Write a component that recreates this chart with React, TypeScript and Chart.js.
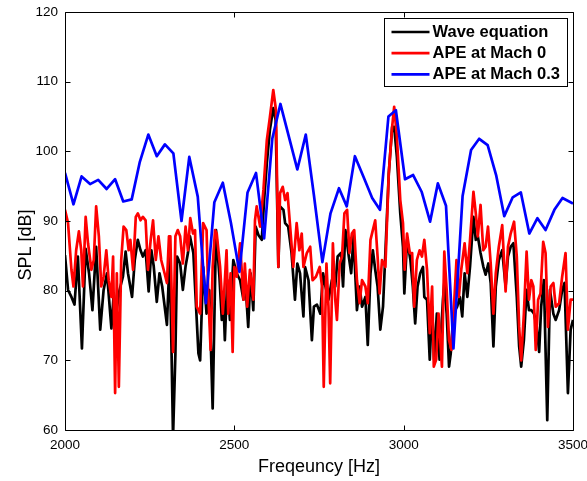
import React, { useEffect, useRef } from "react";
import { Chart, registerables } from "chart.js";

Chart.register(...registerables);

const X_TICKS = [2000, 2500, 3000, 3500];
const Y_TICKS = [60, 70, 80, 90, 100, 110, 120];

const X_TITLE = "Freqeuncy [Hz]";
const Y_TITLE = "SPL [dB]";
const SERIES_LABELS = ["Wave equation", "APE at Mach 0", "APE at Mach 0.3"];
const SERIES_COLORS = ["#000000", "#ff0000", "#0000ff"];

const waveFreq = [
  2000, 2009, 2019, 2028, 2038, 2050, 2061, 2071, 2081, 2092, 2104, 2114, 2124, 2137, 2144, 2151, 2161, 2171, 2179, 2186,
  2198, 2206, 2215, 2223, 2230, 2238, 2247, 2255, 2262, 2271, 2279, 2287, 2301, 2309, 2314, 2319, 2326, 2331, 2340, 2348,
  2356, 2363, 2369, 2379, 2384, 2394, 2399, 2408, 2418, 2426, 2436, 2446, 2456, 2463, 2467, 2472, 2479, 2487, 2497, 2507,
  2517, 2527, 2531, 2541, 2548, 2556, 2563, 2571, 2581, 2588, 2596, 2605, 2615, 2622, 2630, 2635, 2645, 2650, 2659, 2669,
  2679, 2686, 2694, 2704, 2709, 2719, 2729, 2735, 2744, 2754, 2762, 2769, 2778, 2788, 2798, 2805, 2815, 2821, 2828, 2838,
  2845, 2852, 2862, 2870, 2877, 2887, 2894, 2902, 2909, 2916, 2923, 2931, 2939, 2946, 2956, 2966, 2972, 2980, 2990, 2998,
  3002, 3010, 3020, 3027, 3034, 3041, 3049, 3057, 3061, 3069, 3077, 3084, 3090, 3098, 3106, 3116, 3120, 3127, 3134, 3139,
  3147, 3158, 3166, 3173, 3180, 3188, 3196, 3206, 3213, 3219, 3227, 3235, 3242, 3250, 3257, 3265, 3272, 3281, 3291, 3301,
  3308, 3316, 3324, 3334, 3341, 3347, 3355, 3363, 3370, 3377, 3385, 3393, 3400, 3406, 3414, 3424, 3432, 3442, 3449, 3459,
  3468, 3475, 3485, 3493, 3500,
];
const waveSPL = [
  85.1, 80.1, 79.1, 78.0, 84.9, 71.7, 86.0, 82.5, 77.2, 86.3, 74.4, 80.1, 82.5, 74.6, 79.6, 76.7, 80.1, 82.0, 85.6, 82.5,
  79.1, 84.4, 87.3, 85.8, 84.9, 85.8, 79.9, 85.8, 83.5, 78.4, 82.5, 80.6, 75.1, 84.9, 72.9, 59.0, 71.0, 84.9, 83.9, 80.1,
  83.5, 85.4, 87.8, 85.4, 80.6, 71.0, 70.0, 83.4, 76.7, 80.1, 63.1, 88.7, 82.0, 75.8, 79.6, 72.9, 81.5, 75.8, 84.4, 82.5,
  81.5, 78.7, 82.5, 74.8, 82.5, 77.2, 89.2, 88.0, 87.3, 93.0, 98.3, 103.1, 106.2, 104.5, 83.4, 92.1, 91.6, 89.7, 89.2, 85.4,
  78.7, 83.9, 82.5, 76.3, 83.4, 81.5, 72.9, 77.7, 78.0, 76.7, 82.5, 80.6, 78.7, 81.5, 80.6, 84.9, 85.4, 80.6, 88.7, 84.9,
  82.5, 87.8, 77.2, 80.6, 77.7, 79.1, 72.2, 82.5, 85.8, 83.0, 80.6, 74.4, 77.7, 85.4, 96.8, 103.5, 103.5, 99.2, 91.1, 86.3,
  79.6, 87.3, 84.4, 80.6, 75.3, 80.6, 82.5, 83.4, 79.1, 78.7, 70.1, 77.7, 70.1, 76.7, 70.1, 78.7, 81.1, 76.7, 69.1, 71.0,
  76.7, 77.7, 79.1, 76.3, 82.5, 79.1, 83.5, 90.6, 87.3, 87.8, 85.4, 83.5, 82.3, 83.9, 81.1, 72.0, 80.6, 84.4, 85.8, 80.6,
  84.9, 86.3, 86.8, 79.1, 72.0, 69.1, 72.9, 80.1, 77.2, 77.2, 76.7, 74.8, 71.2, 77.7, 81.5, 61.4, 80.1, 76.7, 75.8, 77.2,
  80.1, 81.1, 65.3, 74.4, 75.8,
];

const ape0Freq = [
  2000, 2009, 2019, 2025, 2033, 2041, 2048, 2053, 2061, 2068, 2078, 2085, 2092, 2100, 2107, 2114, 2122, 2129, 2137, 2142,
  2148, 2153, 2159, 2166, 2173, 2181, 2188, 2193, 2201, 2209, 2215, 2223, 2230, 2238, 2245, 2253, 2260, 2268, 2276, 2284,
  2294, 2301, 2307, 2311, 2319, 2326, 2333, 2340, 2348, 2356, 2363, 2370, 2378, 2384, 2389, 2399, 2408, 2418, 2423, 2430,
  2436, 2443, 2448, 2458, 2466, 2471, 2477, 2482, 2489, 2495, 2500, 2507, 2517, 2527, 2531, 2538, 2546, 2556, 2561, 2566,
  2576, 2586, 2596, 2605, 2615, 2623, 2630, 2635, 2643, 2650, 2657, 2664, 2674, 2684, 2692, 2699, 2704, 2714, 2724, 2731,
  2741, 2752, 2759, 2764, 2772, 2778, 2783, 2791, 2798, 2803, 2811, 2818, 2825, 2833, 2840, 2847, 2854, 2862, 2870, 2877,
  2887, 2894, 2902, 2909, 2916, 2923, 2929, 2936, 2946, 2956, 2966, 2972, 2980, 2990, 2998, 3003, 3010, 3018, 3025, 3031,
  3039, 3047, 3054, 3061, 3069, 3077, 3084, 3089, 3096, 3103, 3113, 3120, 3127, 3134, 3141, 3149, 3156, 3163, 3170, 3180,
  3188, 3196, 3206, 3213, 3219, 3227, 3235, 3242, 3249, 3257, 3265, 3272, 3281, 3291, 3301, 3308, 3316, 3326, 3334, 3341,
  3347, 3355, 3363, 3370, 3377, 3383, 3390, 3397, 3404, 3412, 3419, 3426, 3434, 3442, 3449, 3459, 3468, 3478, 3485, 3493,
  3500,
];
const ape0SPL = [
  91.6, 89.7, 83.0, 80.6, 85.8, 88.5, 85.8, 80.6, 90.6, 86.8, 83.0, 84.4, 92.1, 87.8, 80.6, 82.0, 85.8, 81.5, 79.1, 84.9,
  65.3, 82.5, 66.2, 84.4, 89.2, 88.7, 85.8, 87.3, 83.0, 90.6, 91.1, 90.1, 90.6, 90.1, 83.0, 87.3, 90.1, 84.4, 87.8, 84.4,
  82.5, 81.1, 87.8, 87.8, 71.2, 87.8, 88.7, 87.8, 83.9, 89.2, 85.8, 90.4, 88.2, 88.7, 77.7, 76.7, 89.7, 88.7, 79.6, 71.5,
  83.4, 88.7, 88.2, 83.4, 76.7, 80.6, 85.8, 76.7, 82.5, 71.2, 83.4, 82.0, 86.8, 78.7, 83.9, 77.7, 83.0, 78.7, 90.1, 92.1,
  89.2, 94.5, 101.6, 104.9, 108.8, 105.9, 83.4, 94.0, 94.9, 93.0, 94.0, 89.7, 83.4, 89.7, 85.8, 88.2, 83.4, 85.4, 86.3, 81.5,
  82.0, 83.4, 80.6, 66.2, 83.9, 77.7, 66.7, 86.8, 78.7, 75.8, 83.9, 84.9, 91.1, 91.6, 85.4, 88.2, 88.7, 81.5, 78.2, 81.5,
  80.6, 78.2, 87.3, 88.7, 90.1, 84.9, 79.6, 84.4, 83.4, 96.8, 103.5, 106.4, 102.1, 93.0, 89.7, 83.0, 88.2, 85.4, 85.4, 77.7,
  84.4, 85.8, 84.9, 87.3, 83.0, 73.9, 80.6, 69.1, 70.1, 76.7, 69.1, 85.6, 80.1, 72.9, 71.5, 78.2, 84.4, 79.1, 83.0, 86.8,
  82.5, 87.3, 94.2, 91.1, 87.8, 92.3, 85.8, 86.3, 89.2, 83.9, 76.7, 82.5, 86.3, 89.4, 79.9, 86.3, 88.2, 89.9, 84.9, 74.8,
  70.0, 76.7, 85.6, 78.7, 81.5, 80.6, 71.5, 78.7, 79.6, 87.0, 85.4, 74.8, 80.6, 81.1, 77.7, 78.2, 82.0, 85.4, 74.4, 78.7,
  78.7,
];

const ape03Freq = [
  2000, 2025, 2049, 2074, 2098, 2123, 2148, 2172, 2197, 2221, 2246, 2271, 2295, 2320, 2344, 2367, 2392, 2416, 2441, 2466,
  2490, 2515, 2539, 2564, 2588, 2612, 2636, 2661, 2686, 2711, 2735, 2760, 2784, 2809, 2832, 2856, 2881, 2907, 2930, 2955,
  2977, 3004, 3028, 3053, 3078, 3101, 3125, 3147, 3174, 3199, 3223, 3248, 3273, 3297, 3322, 3346, 3371, 3395, 3419, 3445,
  3469, 3500,
];
const ape03SPL = [
  96.9, 92.4, 96.4, 95.3, 95.9, 94.6, 96.0, 92.8, 93.1, 98.5, 102.4, 99.3, 101.0, 99.7, 90.0, 99.2, 93.5, 78.2, 92.7, 95.5,
  89.7, 82.7, 94.1, 96.9, 87.5, 101.8, 106.8, 102.1, 97.4, 102.4, 93.7, 84.1, 91.1, 94.7, 92.1, 99.3, 96.4, 93.3, 91.6, 105.0,
  105.9, 96.0, 96.6, 94.2, 89.9, 95.4, 92.2, 71.7, 93.6, 100.2, 101.8, 100.9, 96.6, 90.7, 93.4, 94.1, 88.2, 90.4, 88.7, 91.6,
  93.3, 92.5,
];

const FONT = "'Liberation Sans', Arial, Helvetica, sans-serif";

const zip = (xs: number[], ys: number[]) => xs.map((x, i) => ({ x, y: ys[i] }));

const framePlugin = {
  id: "matlabFrame",
  afterDatasetsDraw(chart: any) {
    const { ctx, chartArea: a, scales } = chart;
    const L = Math.round(a.left) + 0.5;
    const R = Math.round(a.right) + 0.5;
    const T = Math.round(a.top) + 0.5;
    const B = Math.round(a.bottom) + 0.5;
    ctx.save();
    ctx.strokeStyle = "#000";
    ctx.lineWidth = 1;
    ctx.beginPath();
    ctx.rect(L, T, R - L, B - T);
    const tl = 5;
    X_TICKS.forEach((v) => {
      const px = Math.round(scales.x.getPixelForValue(v)) + 0.5;
      ctx.moveTo(px, B);
      ctx.lineTo(px, B - tl);
      ctx.moveTo(px, T);
      ctx.lineTo(px, T + tl);
    });
    Y_TICKS.forEach((v) => {
      const py = Math.round(scales.y.getPixelForValue(v)) + 0.5;
      ctx.moveTo(L, py);
      ctx.lineTo(L + tl, py);
      ctx.moveTo(R, py);
      ctx.lineTo(R - tl, py);
    });
    ctx.stroke();

    // y-axis title
    ctx.save();
    ctx.translate(26, 245);
    ctx.rotate(-Math.PI / 2);
    ctx.font = `18px ${FONT}`;
    ctx.fillStyle = "#000";
    ctx.textAlign = "center";
    ctx.textBaseline = "middle";
    ctx.fillText(Y_TITLE, 0, 0);
    ctx.restore();

    // legend box
    const bx = Math.round(a.right) - 189 + 0.5;
    const by = Math.round(a.top) + 6 + 0.5;
    const bw = 183;
    const bh = 68;
    ctx.fillStyle = "#fff";
    ctx.fillRect(bx, by, bw, bh);
    ctx.strokeStyle = "#000";
    ctx.lineWidth = 1;
    ctx.strokeRect(bx, by, bw, bh);
    ctx.font = `bold 16.5px ${FONT}`;
    ctx.textBaseline = "middle";
    ctx.textAlign = "left";
    chart.data.datasets.forEach((ds: any, i: number) => {
      const y = by + 13.5 + i * 21.2;
      ctx.strokeStyle = ds.borderColor;
      ctx.lineWidth = 2.7;
      ctx.beginPath();
      ctx.moveTo(bx + 7, y);
      ctx.lineTo(bx + 45, y);
      ctx.stroke();
      ctx.fillStyle = "#000";
      ctx.fillText(ds.label, bx + 48, y + 0.5);
    });
    ctx.restore();
  },
};

export default function App() {
  const ref = useRef<HTMLCanvasElement | null>(null);
  useEffect(() => {
    if (!ref.current) return;
    const series = [
      { f: waveFreq, v: waveSPL },
      { f: ape0Freq, v: ape0SPL },
      { f: ape03Freq, v: ape03SPL },
    ];
    const chart = new Chart(ref.current, {
      type: "line",
      data: {
        datasets: series.map((s, i) => ({
          label: SERIES_LABELS[i],
          data: zip(s.f, s.v),
          borderColor: SERIES_COLORS[i],
          backgroundColor: SERIES_COLORS[i],
          borderWidth: 2.7,
          pointRadius: 0,
          tension: 0,
          fill: false,
          borderJoinStyle: "round",
          order: 2 - i,
        })),
      },
      options: {
        responsive: false,
        animation: false,
        events: [],
        layout: { padding: { left: 0, right: 14, top: 12, bottom: 0 } },
        plugins: { legend: { display: false }, tooltip: { enabled: false } },
        scales: {
          x: {
            type: "linear",
            min: 2000,
            max: 3500,
            afterBuildTicks: (s: any) => {
              s.ticks = X_TICKS.map((v) => ({ value: v }));
            },
            afterFit: (s: any) => {
              s.height = 51;
              s.paddingLeft = 0;
              s.paddingRight = 0;
            },
            grid: { display: false, drawTicks: false },
            border: { display: false },
            ticks: {
              color: "#000",
              font: { family: FONT, size: 13.5 },
              padding: 7,
              maxRotation: 0,
              autoSkip: false,
              callback: (v: any) => String(v),
            },
            title: {
              display: true,
              text: X_TITLE,
              color: "#000",
              font: { family: FONT, size: 18 },
              padding: { top: 0, bottom: 3 },
            },
          },
          y: {
            type: "linear",
            min: 60,
            max: 120,
            afterBuildTicks: (s: any) => {
              s.ticks = Y_TICKS.map((v) => ({ value: v }));
            },
            afterFit: (s: any) => {
              s.width = 65;
              s.paddingTop = 0;
              s.paddingBottom = 0;
            },
            grid: { display: false, drawTicks: false },
            border: { display: false },
            ticks: {
              color: "#000",
              font: { family: FONT, size: 13.5 },
              padding: 7,
              autoSkip: false,
              callback: (v: any) => String(v),
            },
            title: { display: false },
          },
        },
      },
      plugins: [framePlugin],
    });
    return () => chart.destroy();
  }, []);

  return (
    <div style={{ position: "absolute", left: 0, top: 0, width: 587, height: 481, background: "#fff" }}>
      <canvas ref={ref} width={587} height={481} style={{ display: "block" }} />
    </div>
  );
}
